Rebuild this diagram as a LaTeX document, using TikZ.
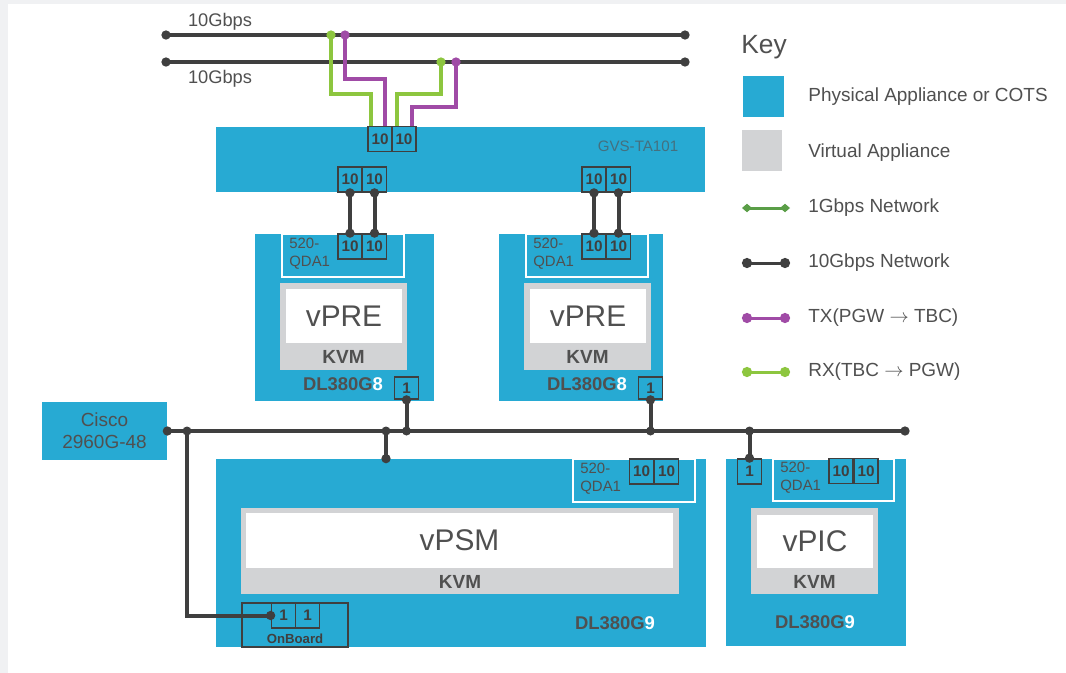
\documentclass[tikz,border=0pt]{standalone}
\usepackage{fontspec}
\setmainfont{Liberation Sans}
\usepackage{tikz}
\usetikzlibrary{arrows.meta,positioning,calc,fit}
\usepackage{xcolor}
\definecolor{physblue}{HTML}{27AAD3}
\definecolor{virtgray}{HTML}{D2D3D5}
\definecolor{netdark}{HTML}{3F3F3F}
\definecolor{txpurple}{HTML}{A04BA6}
\definecolor{rxgreen}{HTML}{8DC63F}
\definecolor{gbgreen}{HTML}{5A9E47}
\definecolor{labelgray}{HTML}{505050}
\definecolor{gvstext}{HTML}{44707F}
\definecolor{pagegray}{HTML}{F0F1F3}

\begin{document}
\begin{tikzpicture}[
    x=0.02cm, y=-0.02cm,
    physbox/.style={fill=physblue, inner sep=0pt},
    virtbox/.style={fill=virtgray, inner sep=0pt},
    vmbox/.style={fill=white, inner sep=0pt},
    vmlbl/.style={text=labelgray, inner sep=0pt, font=\fontsize{17}{18}\selectfont},
    qdabox/.style={draw=white, line width=0.03cm, inner sep=0pt},
    port/.style={draw=netdark, fill=physblue, line width=0.035cm, inner sep=0pt,
                 minimum width=0.48cm, minimum height=0.5cm, text=netdark,
                 font=\bfseries\fontsize{8.7}{9}\selectfont},
    hostlbl/.style={text=labelgray, font=\bfseries\fontsize{10.5}{12}\selectfont},
    kvmlbl/.style={text=labelgray, font=\bfseries\fontsize{10.8}{12}\selectfont},
    qdalbl/.style={text=labelgray, align=left, anchor=west, inner sep=0pt,
                   font=\fontsize{8.5}{10.2}\selectfont},
    keylbl/.style={text=labelgray, anchor=west, inner sep=0pt,
                   font=\fontsize{10.8}{12}\selectfont},
    net/.style={line width=0.08cm, color=netdark},
    tx/.style={line width=0.08cm, color=txpurple},
    rx/.style={line width=0.08cm, color=rxgreen},
    dotboth/.style={{Circle[length=0.18cm]}-{Circle[length=0.18cm]},
                    shorten <=-0.09cm, shorten >=-0.09cm},
    dotstart/.style={{Circle[length=0.18cm]}-, shorten <=-0.09cm},
    dotend/.style={-{Circle[length=0.18cm]}, shorten >=-0.09cm},
    keyline/.style={line width=0.06cm, {Circle[length=0.2cm]}-{Circle[length=0.2cm]}},
]
% Page
\useasboundingbox (0,0) rectangle (1066,673);
\fill[pagegray] (0,0) rectangle (1066,673);
\fill[white] (8,4) rectangle (1066,673);

% ---- Uplinks ----
\coordinate (topAw) at (166,35);
\coordinate (topAe) at (685,35);
\coordinate (topBw) at (166,62);
\coordinate (topBe) at (685,62);
\node[text=labelgray, font=\fontsize{10.4}{12}\selectfont] (upA) at (220,22) {10Gbps};
\node[text=labelgray, font=\fontsize{10.4}{12}\selectfont] (upB) at (220,79) {10Gbps};

% ---- GVS-TA101 ----
\node[physbox, fit={(216,127) (705,192)}] (gvs) {};
\node[text=gvstext, font=\fontsize{8.6}{10}\selectfont] (gvslbl) at (638,146) {GVS-TA101};
\node[port] (gvsT1) at (380,139) {10};
\node[port] (gvsT2) at (404,139) {10};
\node[port] (gvsA1) at (350,179.5) {10};
\node[port] (gvsA2) at (374.5,179.5) {10};
\node[port] (gvsB1) at (594,179.5) {10};
\node[port] (gvsB2) at (618.5,179.5) {10};

% ---- LEFT: DL380G8 ----
\node[physbox, fit={(255,234) (434,401)}] (hostA) {};
\node[qdabox, fit={(282,234) (404,277)}] (qdaA) {};
\node[qdalbl] (qdaAlbl) at (289,254) {520-\\QDA1};
\node[port] (qdaA1) at (350,246.5) {10};
\node[port] (qdaA2) at (374.5,246.5) {10};
\node[virtbox, fit={(280,283) (407,370)}] (vmA) {};
\node[vmbox, fit={(286,289) (402,343)}] (vpreA) {};
\node[vmlbl] (vpreAlbl) at (vpreA.center) {vPRE};
\node[kvmlbl] (kvmA) at (343.5,357) {KVM};
\node[hostlbl] (hostAlbl) at (343,384) {DL380G\textcolor{white}{8}};
\node[port, minimum height=0.44cm] (hostA1) at (406.5,388) {1};

% ---- RIGHT: DL380G8 ----
\node[physbox, fit={(499,234) (663,401)}] (hostB) {};
\node[qdabox, fit={(526,234) (648,277)}] (qdaB) {};
\node[qdalbl] (qdaBlbl) at (533,254) {520-\\QDA1};
\node[port] (qdaB1) at (594,246.5) {10};
\node[port] (qdaB2) at (618.5,246.5) {10};
\node[virtbox, fit={(524,283) (651,370)}] (vmB) {};
\node[vmbox, fit={(530,289) (646,343)}] (vpreB) {};
\node[vmlbl] (vpreBlbl) at (vpreB.center) {vPRE};
\node[kvmlbl] (kvmB) at (587.5,357) {KVM};
\node[hostlbl] (hostBlbl) at (587,384) {DL380G\textcolor{white}{8}};
\node[port, minimum height=0.44cm] (hostB1) at (650.5,388) {1};

% ---- Cisco switch ----
\node[physbox, fit={(42,402) (167,460)}] (cisco) {};
\node[text=labelgray, align=center, inner sep=0pt,
      font=\fontsize{10.8}{12.5}\selectfont] (ciscolbl) at (cisco.center) {Cisco\\2960G-48};

% ---- vPSM host ----
\node[physbox, fit={(216,459) (706,647)}] (hostC) {};
\node[qdabox, fit={(573,459) (695,502)}] (qdaC) {};
\node[qdalbl] (qdaClbl) at (580,479) {520-\\QDA1};
\node[port] (qdaC1) at (641.5,471.5) {10};
\node[port] (qdaC2) at (666.5,471.5) {10};
\node[virtbox, fit={(241,508) (679,594)}] (vmC) {};
\node[vmbox, fit={(246,513) (673,568)}] (vpsm) {};
\node[vmlbl] (vpsmlbl) at (vpsm.center) {vPSM};
\node[kvmlbl] (kvmC) at (460,582) {KVM};
\node[hostlbl] (hostClbl) at (615,623) {DL380G\textcolor{white}{9}};
\node[draw=netdark, line width=0.035cm, inner sep=0pt, fit={(242,603) (348,647)}] (onb) {};
\node[port] (onb1) at (283.5,615.5) {1};
\node[port] (onb2) at (307.5,615.5) {1};
\node[text=netdark, font=\bfseries\fontsize{7.5}{8}\selectfont] (onblbl) at (295,639) {OnBoard};

% ---- vPIC host ----
\node[physbox, fit={(726,459) (906,646)}] (hostD) {};
\node[qdabox, fit={(773,459) (894,501)}] (qdaD) {};
\node[qdalbl] (qdaDlbl) at (780,478) {520-\\QDA1};
\node[port] (qdaD1) at (841,471) {10};
\node[port] (qdaD2) at (866,471) {10};
\node[port] (hostD1) at (749.5,471.5) {1};
\node[virtbox, fit={(751,508) (878,594)}] (vmD) {};
\node[vmbox, fit={(757,515) (873,568)}] (vpic) {};
\node[vmlbl] (vpiclbl) at (vpic.center) {vPIC};
\node[kvmlbl] (kvmD) at (814.5,582) {KVM};
\node[hostlbl] (hostDlbl) at (815,622) {DL380G\textcolor{white}{9}};

% ---- 10G links ----
\draw[net, dotboth] (topAw) -- (topAe);
\draw[net, dotboth] (topBw) -- (topBe);
\draw[net, dotboth] (gvsA1.south) -- (qdaA1.north);
\draw[net, dotboth] (gvsA2.south) -- (qdaA2.north);
\draw[net, dotboth] (gvsB1.south) -- (qdaB1.north);
\draw[net, dotboth] (gvsB2.south) -- (qdaB2.north);

% ---- TX / RX drops ----
\coordinate (rxA) at (331,35);
\coordinate (txA) at (345,35);
\coordinate (rxB) at (441,62);
\coordinate (txB) at (456,62);
\draw[rx, dotstart] (rxA) -- ++(0,59) -| ([xshift=-0.18cm]gvsT1.north);
\draw[tx, dotstart] (txA) -- ++(0,44) -| ([xshift=0.1cm]gvsT1.north);
\draw[rx, dotstart] (rxB) -- ++(0,32) -| ([xshift=-0.14cm]gvsT2.north);
\draw[tx, dotstart] (txB) -- ++(0,45) -| ([xshift=0.16cm]gvsT2.north);

% ---- Management bus ----
\coordinate (busE) at (905,431);
\coordinate (jOnb) at (187,431);
\coordinate (jPsm) at (386,431);
\coordinate (jA)   at (406.5,431);
\coordinate (jB)   at (650.5,431);
\coordinate (jD)   at (749.5,431);
\draw[net, dotboth] (cisco.east) -- (busE);
\draw[net, dotend] (jOnb) |- (onb1.west);
\draw[net, dotend] (jPsm) -- (jPsm |- hostC.north);
\draw[net, dotend] (jA) -- (hostA1.south);
\draw[net, dotend] (jB) -- (hostB1.south);
\draw[net, dotend] (jD) -- (hostD1.north);
\foreach \j in {jOnb,jPsm,jA,jB,jD}
  \fill[netdark] (\j) circle[radius=0.09cm];

% ---- Key ----
\node[text=labelgray, anchor=west, inner sep=0pt, font=\fontsize{15}{16}\selectfont] (keyttl) at (741,47) {Key};
\node[physbox, fit={(743,76) (784,117)}] (keyphys) {};
\node[keylbl] (keyphyslbl) at (808,97) {Physical Appliance or COTS};
\node[virtbox, fit={(742,130) (782,171)}] (keyvirt) {};
\node[keylbl] (keyvirtlbl) at (808,153) {Virtual Appliance};
\coordinate (k1a) at (742,208); \coordinate (k1b) at (790,208);
\coordinate (k2a) at (742,263); \coordinate (k2b) at (790,263);
\coordinate (k3a) at (742,318); \coordinate (k3b) at (790,318);
\coordinate (k4a) at (742,372); \coordinate (k4b) at (790,372);
\draw[line width=0.06cm, gbgreen, {Diamond[length=0.2cm,width=0.17cm]}-{Diamond[length=0.2cm,width=0.17cm]}] (k1a) -- (k1b);
\draw[keyline, netdark] (k2a) -- (k2b);
\draw[keyline, txpurple] (k3a) -- (k3b);
\draw[keyline, rxgreen] (k4a) -- (k4b);
\node[keylbl] (key1lbl) at (808,208) {1Gbps Network};
\node[keylbl] (key2lbl) at (808,263) {10Gbps Network};
\node[keylbl] (key3lbl) at (808,318) {TX(PGW $\to$ TBC)};
\node[keylbl] (key4lbl) at (808,372) {RX(TBC $\to$ PGW)};
\end{tikzpicture}
\end{document}
